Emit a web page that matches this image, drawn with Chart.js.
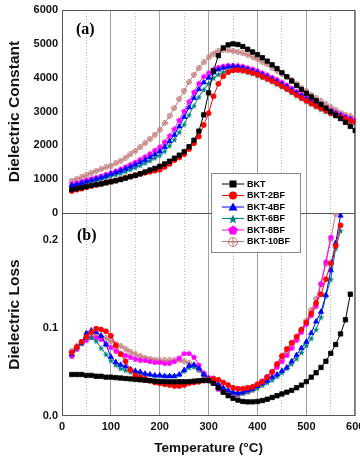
<!DOCTYPE html>
<html><head><meta charset="utf-8">
<script src="https://cdn.jsdelivr.net/npm/chart.js@4.4.0/dist/chart.umd.min.js"></script>
<style>html,body{margin:0;padding:0;background:#fff;}canvas{display:block;}</style>
</head><body>
<canvas id="c" width="360" height="456"></canvas>
<script>
// ---------- data ----------
const temps = [20,30,40,50,60,70,80,90,100,110,120,130,140,150,160,170,180,190,200,210,220,230,240,250,260,270,280,290,300,310,320,330,340,350,360,370,380,390,400,410,420,430,440,450,460,470,480,490,500,510,520,530,540,550,560,570,580,590,600];
const seriesNames = ['BKT','BKT-2BF','BKT-4BF','BKT-6BF','BKT-8BF','BKT-10BF'];

const bktConst = [690,720,750,780,810,840,860,890,920, 950,990,1030,1070,1110,1160,1210,1270,1320,1380, 1450,1530,1620,1710,1810,1960,2150,2420,2900,3550, 4200,4650,4880,4970,5000,4980,4920,4840,4760,4680, 4590,4490,4380,4270,4150,4030,3900,3770,3650,3540, 3430,3320,3210,3100,2990,2890,2790,2680,2560,2440];
const bf2Const = [650,690,720,760,800,830,860,900,930, 960,1000,1040,1080,1120,1150,1190,1220,1250,1280, 1360,1450,1560,1640,1740,1890,2060,2260,2600,2950, 3450,3820,4040,4160,4220,4230,4210,4180,4140,4090, 4030,3970,3900,3830,3750,3670,3580,3490,3400,3320, 3240,3160,3090,3020,2950,2890,2830,2780,2730,2690];
const bf4Const = [820,850,890,930,970,1010,1050,1100,1150, 1200,1250,1310,1370,1430,1500,1570,1650,1730,1820, 1950,2120,2310,2560,2840,3120,3400,3660,3860,4000, 4150,4240,4290,4320,4330,4320,4290,4250,4200,4150, 4090,4030,3960,3890,3810,3730,3640,3550,3460,3370, 3290,3210,3140,3070,3000,2940,2880,2820,2770,2720];
const bf6Const = [790,820,850,890,930,960,1000,1040,1090, 1130,1180,1230,1290,1350,1410,1480,1550,1630,1710, 1830,1990,2170,2390,2620,2900,3170,3430,3650,3830, 3990,4100,4170,4210,4230,4220,4200,4160,4120,4070, 4010,3950,3880,3810,3730,3650,3560,3470,3380,3300, 3220,3140,3070,3000,2930,2870,2810,2750,2700,2650];
const bf8Const = [870,900,940,980,1020,1060,1100,1150,1200, 1250,1310,1370,1440,1510,1590,1670,1760,1860,1960, 2110,2290,2490,2750,3020,3300,3580,3840,4040,4150, 4250,4310,4350,4370,4370,4360,4340,4300,4260,4210, 4150,4090,4020,3950,3870,3790,3700,3600,3510,3420, 3340,3260,3180,3110,3040,2970,2910,2850,2800,2760];
const bf10Const = [960,1010,1060,1110,1180,1240,1290,1350,1400, 1470,1550,1640,1730,1830,1940,2060,2190,2320,2460, 2660,2880,3100,3370,3620,3870,4090,4280,4450,4600, 4710,4790,4820,4810,4790,4760,4720,4670,4610,4550, 4470,4390,4300,4210,4120,4020,3920,3810,3700,3600, 3500,3400,3300,3210,3120,3040,2970,2910,2860,2820];

const bktLoss = [.047,.047,.047,.046,.046,.045,.045,.044,.044, .0435,.043,.0425,.042,.0415,.041,.0405,.040,.0395,.039, .0388,.0387,.0387,.0388,.0388,.039,.0395,.040,.0405,.040, .037,.032,.027,.023,.020,.018,.0165,.016,.016,.0165, .0175,.019,.021,.023,.025,.027,.029,.032,.035,.039, .044,.049,.055,.062,.071,.081,.093,.109,.138,null];
const bf2Loss = [.072,.078,.084,.090,.095,.099,.098,.096,.091, .080,.070,.062,.052,.046,.044,.042,.040,.038,.037, .036,.035,.034,.034,.035,.037,.038,.0387,.040,.041, .0425,.041,.038,.035,.032,.031,.031,.032,.033,.036, .039,.044,.050,.059,.068,.076,.083,.090,.098,.106, .116,.128,.138,.155,.173,.193,.216,null,null,null];
const bf4Loss = [.070,.078,.083,.094,.097,.095,.091,.081,.067, .061,.058,.056,.053,.051,.050,.048,.047,.046,.046, .045,.045,.045,.047,.052,.057,.058,.054,.047,.042, .039,.036,.032,.029,.027,.026,.027,.029,.031,.034, .037,.040,.044,.047,.051,.055,.062,.069,.077,.084, .094,.107,.118,.137,.165,.196,.227,null,null,null];
const bf6Loss = [.071,.077,.082,.089,.089,.085,.077,.070,.063, .058,.054,.052,.050,.049,.048,.047,.047,.046,.046, .046,.046,.046,.047,.051,.055,.056,.053,.047,.043, .039,.035,.031,.028,.026,.025,.026,.028,.030,.032, .035,.038,.041,.045,.049,.054,.059,.065,.072,.080, .088,.098,.112,.136,.155,.190,.210,null,null,null];
const bf8Loss = [.068,.076,.083,.086,.089,.089,.087,.082,.078, .074,.071,.069,.067,.065,.064,.063,.062,.061,.061, .060,.060,.062,.066,.071,.071,.067,.058,.049,.044, .038,.031,.027,.025,.025,.025,.027,.029,.032,.036, .040,.045,.050,.056,.062,.069,.077,.086,.095,.104, .114,.125,.150,.175,.203,null,null,null,null,null];
const bf10Loss = [.074,.079,.084,.088,.090,.091,.090,.088,.085, .082,.079,.076,.073,.070,.068,.066,.065,.064,.063, .063,.063,.063,.063,.062,.060,.057,.052,.047,.041, .037,.033,.030,.028,.026,.025,.026,.027,.030,.034, .039,.044,.050,.057,.064,.072,.080,.088,.097,.108, .120,.133,.150,.172,.200,.229,null,null,null,null];

const xTickValues = [0,100,200,300,400,500,600];
const xMinorTickValues = [50,150,250,350,450,550];
const constTickValues = [0,1000,2000,3000,4000,5000,6000];
const lossTickValues = [0,0.1,0.2];
const lossTickLabels = ['0.0','0.1','0.2'];

// ---------- styles ----------
const FONT = '"Liberation Sans", Arial, sans-serif';
function makeImg(size, draw){ const c=document.createElement('canvas'); c.width=size; c.height=size; draw(c.getContext('2d'), size); return c; }
function starImg(size,color){ return makeImg(size,(g,s)=>{ const cx=s/2, cy=s/2+0.4, R=s/2, r=R*0.42; g.beginPath(); for(let i=0;i<10;i++){ const a=-Math.PI/2+i*Math.PI/5; const rr=i%2?r:R; g.lineTo(cx+rr*Math.cos(a), cy+rr*Math.sin(a)); } g.closePath(); g.fillStyle=color; g.fill(); }); }
function pentImg(size,color){ return makeImg(size,(g,s)=>{ const cx=s/2, cy=s/2+0.4, R=s/2; g.beginPath(); for(let i=0;i<5;i++){ const a=-Math.PI/2+i*2*Math.PI/5; g.lineTo(cx+R*Math.cos(a), cy+R*Math.sin(a)); } g.closePath(); g.fillStyle=color; g.fill(); }); }
function oplusImg(size,color){ return makeImg(size,(g,s)=>{ const c=s/2; g.strokeStyle=color; g.lineWidth=1; g.beginPath(); g.arc(c,c,c-0.6,0,2*Math.PI); g.moveTo(c,0.5); g.lineTo(c,s-0.5); g.moveTo(0.5,c); g.lineTo(s-0.5,c); g.stroke(); }); }

const colors = ['#000000','#ff0000','#0000ff','#008080','#ff00ff','#c07878'];
const pointStyles = ['rect','circle','triangle', starImg(7,colors[3]), pentImg(6,colors[4]), oplusImg(6,colors[5])];
const pointRadii = [3.1,2.5,3.0,3,3,3];
const legendStyles = ['rect','circle','triangle', starImg(10,colors[3]), pentImg(10,colors[4]), oplusImg(10,colors[5])];

function pts(vals){ const out=[]; temps.forEach((t,i)=>{ if(vals[i]!==null && vals[i]!==undefined) out.push({x:t,y:vals[i]}); }); return out; }

const constSeries = [bktConst,bf2Const,bf4Const,bf6Const,bf8Const,bf10Const];
const lossSeries = [bktLoss,bf2Loss,bf4Loss,bf6Loss,bf8Loss,bf10Loss];

const datasets = [];
function addSet(vals, i, axis){
  datasets.push({label:seriesNames[i], data:pts(vals), yAxisID:axis, xAxisID:'x',
    borderColor:colors[i], backgroundColor:colors[i], borderWidth:1,
    pointStyle:pointStyles[i], pointRadius:pointRadii[i], pointBorderWidth:0.8,
    pointBackgroundColor: colors[i], pointBorderColor: colors[i], tension:0, fill:false});
}
constSeries.forEach((v,i)=>addSet(v,i,'yConst'));
lossSeries.forEach((v,i)=>addSet(v,i,'yLoss'));

const tickFont = {family:FONT, weight:'bold', size:11};
const titleFont = {family:FONT, weight:'bold', size:15.5};

const framePlugin = {
  id:'frame',
  beforeDatasetsDraw(chart){
    const {ctx, chartArea:a} = chart; const yc = chart.scales.yConst;
    ctx.save(); ctx.strokeStyle='#555'; ctx.lineWidth=1;
    ctx.strokeRect(a.left+0.5, a.top+0.5, a.right-a.left-1, a.bottom-a.top-1);
    ctx.beginPath(); ctx.moveTo(a.left, Math.round(yc.bottom)+0.5); ctx.lineTo(a.right, Math.round(yc.bottom)+0.5); ctx.stroke();
    ctx.restore();
  },
  afterDraw(chart){
    const {ctx, chartArea:a} = chart; const yc = chart.scales.yConst, yl = chart.scales.yLoss;
    ctx.save();
    ctx.fillStyle='#000'; ctx.font='bold 16px "Liberation Serif", "Times New Roman", serif';
    ctx.textBaseline='middle'; ctx.textAlign='left';
    ctx.fillText('(a)', a.left+14, yc.top+20);
    ctx.fillText('(b)', a.left+15, yl.top+23);
    // legend
    const bx=211.5, by=173.5, bw=89, bh=79;
    ctx.fillStyle='#fff'; ctx.fillRect(bx,by,bw,bh);
    ctx.strokeStyle='#888'; ctx.lineWidth=1; ctx.strokeRect(bx,by,bw,bh);
    ctx.font='bold 9px '+FONT; ctx.textBaseline='middle';
    seriesNames.forEach((name,i)=>{
      const y = 184 + i*11.5;
      const c = colors[i];
      ctx.strokeStyle=c; ctx.lineWidth=1;
      ctx.beginPath(); ctx.moveTo(222,y); ctx.lineTo(244,y); ctx.stroke();
      const st = legendStyles[i]; const mx=233;
      ctx.fillStyle=c;
      if (st==='rect'){ ctx.fillRect(mx-3.5,y-3.5,7,7); }
      else if (st==='circle'){ ctx.beginPath(); ctx.arc(mx,y,4,0,2*Math.PI); ctx.fill(); }
      else if (st==='triangle'){ ctx.beginPath(); ctx.moveTo(mx,y-4.5); ctx.lineTo(mx+4.5,y+3.5); ctx.lineTo(mx-4.5,y+3.5); ctx.closePath(); ctx.fill(); }
      else { ctx.drawImage(st, Math.round(mx-st.width/2), Math.round(y-st.height/2)); }
      ctx.fillStyle='#000'; ctx.textAlign='left';
      ctx.fillText(name, 247, y+0.5);
    });
    ctx.restore();
  }
};

new Chart(document.getElementById('c'), {
  type:'line',
  data:{datasets},
  plugins:[framePlugin],
  options:{
    responsive:false, animation:false, normalized:true,
    layout:{padding:{top:10,right:4,left:0,bottom:0}},
    plugins:{legend:{display:false}, tooltip:{enabled:false}},
    scales:{
      x:{type:'linear', position:'bottom', min:0, max:600,
        afterBuildTicks:s=>{ s.ticks = xTickValues.map(v=>({value:v})); },
        ticks:{font:tickFont, color:'#111', padding:4, maxRotation:0, autoSkip:false, callback:v=>String(v)},
        grid:{color:'#a0a0a0', lineWidth:1, drawTicks:false},
        border:{display:false},
        title:{display:true, text:'Temperature (°C)', font:{family:FONT, weight:'bold', size:13.5}, color:'#111', padding:{top:0,bottom:0}},
        afterFit:s=>{ s.height=40; s.paddingLeft=0; s.paddingRight=0; }
      },
      x2:{type:'linear', position:'bottom', min:0, max:600,
        afterBuildTicks:s=>{ s.ticks = xMinorTickValues.map(v=>({value:v})); },
        ticks:{display:false},
        grid:{color:'#b8b8b8', lineWidth:1, drawTicks:false},
        border:{display:false, dash:[1,2]},
        afterFit:s=>{ s.height=0; s.paddingLeft=0; s.paddingRight=0; }
      },
      yLoss:{type:'linear', position:'left', stack:'panels', stackWeight:1, min:0, max:0.23,
        afterBuildTicks:s=>{ s.ticks = lossTickValues.map(v=>({value:v})); },
        ticks:{font:tickFont, color:'#111', padding:4, callback:(v,i)=>lossTickLabels[i]},
        grid:{display:false, drawTicks:false}, border:{display:false},
        title:{display:true, text:'Dielectric Loss', font:titleFont, color:'#111', padding:{top:5,bottom:0}},
        afterFit:s=>{ s.width=62; s.paddingTop=0; s.paddingBottom=0; }
      },
      yConst:{type:'linear', position:'left', stack:'panels', stackWeight:1, min:0, max:6000,
        afterBuildTicks:s=>{ s.ticks = constTickValues.map(v=>({value:v})); },
        ticks:{font:tickFont, color:'#111', padding:4, callback:v=>String(v)},
        grid:{display:false, drawTicks:false}, border:{display:false},
        title:{display:true, text:'Dielectric Constant', font:titleFont, color:'#111', padding:{top:5,bottom:0}},
        afterFit:s=>{ s.width=62; s.paddingTop=0; s.paddingBottom=0; }
      }
    }
  }
});
</script>
</body></html>
